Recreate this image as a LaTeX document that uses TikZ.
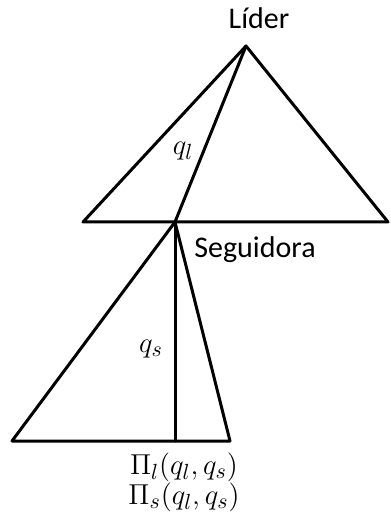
\documentclass[tikz,border=0pt]{standalone}
\usepackage{fontspec}
\setmainfont{Carlito}
\usepackage{tikz}
\usetikzlibrary{positioning}

\begin{document}
\begin{tikzpicture}[x=0.5pt,y=-0.5pt]
    \useasboundingbox (0,0) rectangle (390,517);
    \tikzset{edge/.style={line width=1.5pt, line join=round, line cap=round},
             lbl/.style={font=\fontsize{15}{17}\selectfont, inner sep=0pt, anchor=base},
             mlbl/.style={font=\fontsize{15.5}{15}\selectfont, inner sep=0pt}}
    % vertices
    \coordinate (lider) at (246,46);
    \coordinate (seg) at (175,222);
    \coordinate (lleft) at (83,222);
    \coordinate (lright) at (388,222);
    \coordinate (sleft) at (12,441);
    \coordinate (sright) at (230,441);
    \coordinate (sfoot) at (175,441);
    % leader game
    \draw[edge] (lleft) -- (lider) -- (lright) -- cycle;
    \draw[edge] (lider) -- (seg);
    % follower game
    \draw[edge] (seg) -- (sleft) -- (sright) -- cycle;
    \draw[edge] (seg) -- (sfoot);
    % labels
    \node[lbl] (tlider) at (259,29) {Líder};
    \node[lbl] (tseg) at (255,257) {Seguidora};
    \node[mlbl] (ql) at (183,151) {$q_l$};
    \node[mlbl] (qs) at (151,349) {$q_s$};
    \node[mlbl, align=center] (payoff) at (184,482) {$\Pi_l(q_l,q_s)$\\$\Pi_s(q_l,q_s)$};
\end{tikzpicture}
\end{document}
